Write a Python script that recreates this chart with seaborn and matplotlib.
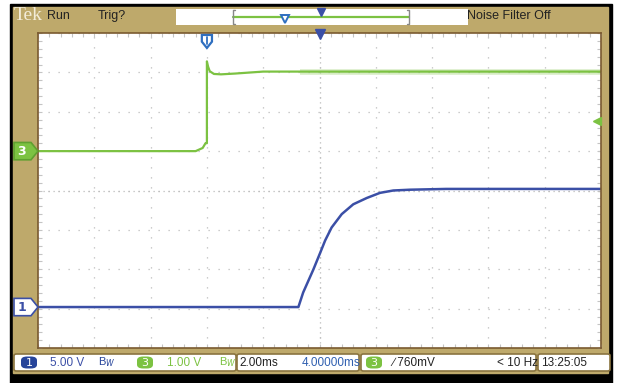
import numpy as np
import matplotlib.pyplot as plt
import matplotlib.patches as mpatches
import matplotlib.transforms as mtrans
import seaborn as sns

# channel 1 (blue, 5 V/div) and channel 3 (green, 1 V/div), time in ms
ch1_t = [0.0, 9.25, 9.42, 9.78, 10.02, 10.20, 10.43, 10.79, 11.20, 11.68, 12.15, 12.62, 13.21, 14.5, 20.0]
ch1_v = [0.0, 0.0, 1.85, 4.75, 6.85, 8.45, 10.1, 11.8, 13.05, 13.85, 14.5, 14.8, 14.9, 15.0, 15.0]
ch3_t = [0.0, 5.6, 5.85, 5.95, 6.0, 6.0, 6.04, 6.1, 6.25, 6.5, 7.0, 8.0, 20.0]
ch3_v = [0.0, 0.0, 0.08, 0.2, 0.2, 2.28, 2.15, 2.03, 1.96, 1.95, 1.97, 2.02, 2.02]

ch1_scale, ch1_ground = 5.0, -2.96
ch3_scale, ch3_ground = 1.0, 1.0
trig_level = 0.76  # V on ch3
trig_time = 6.0
noise_from = 9.3

bar_left = ["5.00 V", "1.00 V"]
timebase = ["2.00ms", "4.00000ms"]
trig_text = ["\u2215 760mV", "< 10 Hz"]
clock = "13:25:05"

BLUE = "#3b4fa6"
GREEN = "#7cc242"
TAN = "#bea96b"
BROWN = "#7a5a30"

W, H = 620, 383
fig = plt.figure(figsize=(W / 100, H / 100), dpi=100)
sns.set_style("white")
plt.rcParams['font.family'] = ['Liberation Sans', 'DejaVu Sans']

def px(x, y, w, h):
    return [x / W, 1 - (y + h) / H, w / W, h / H]

# frame
fig.add_artist(mpatches.Rectangle((10 / W, 0), 602 / W, 1 - 4 / H, transform=fig.transFigure,
                                  color="black", zorder=0))
fig.add_artist(mpatches.Rectangle((13 / W, 1 - 373 / H), 595 / W, 366 / H, transform=fig.transFigure,
                                  color=TAN, zorder=0))

ax = fig.add_axes(px(38, 33, 563, 315))
ax.set_facecolor("white")
ax.set_xlim(0, 20)
ax.set_ylim(-4, 4)
for s in ax.spines.values():
    s.set_color(BROWN)
    s.set_linewidth(1.2)

# graticule
ax.set_xticks(np.arange(0, 21, 2))
ax.set_yticks(np.arange(-4, 5, 1))
ax.set_xticks(np.arange(0, 20.01, 0.4), minor=True)
ax.set_yticks(np.arange(-4, 4.01, 0.2), minor=True)
ax.tick_params(which="both", direction="in", top=True, right=True, bottom=True, left=True,
               labelbottom=False, labelleft=False, color="#c4c4c4", length=3, width=0.8)
ax.grid(True, which="major", color="#bdbdbd", linestyle=(0, (1, 7)), linewidth=0.9)
ax.axhline(0, color="#bdbdbd", linestyle=(0, (1, 3)), linewidth=0.9)
ax.axvline(10, color="#bdbdbd", linestyle=(0, (1, 3)), linewidth=0.9)

# traces
ch3_div = [ch3_ground + v / ch3_scale for v in ch3_v]
ch1_div = [ch1_ground + v / ch1_scale for v in ch1_v]
noisy = [(t, d) for t, d in zip(ch3_t, ch3_div) if t >= noise_from]
ax.plot([noise_from] + [p[0] for p in noisy], [noisy[0][1]] + [p[1] for p in noisy],
        color=GREEN, lw=4, alpha=0.3, solid_capstyle="butt")
sns.lineplot(x=ch3_t, y=ch3_div, ax=ax, color=GREEN, lw=1.6, sort=False, estimator=None)
sns.lineplot(x=ch1_t, y=ch1_div, ax=ax, color=BLUE, lw=1.8, sort=False, estimator=None)

# channel ground markers on the left
blend = mtrans.blended_transform_factory(fig.transFigure, ax.transData)
def chan_marker(yd, label, face, edge, tc):
    x0, x1, xt = 14 / W, 31 / W, 38 / W
    h = 0.22
    poly = mpatches.Polygon([(x0, yd - h), (x1, yd - h), (xt, yd), (x1, yd + h), (x0, yd + h)],
                            closed=True, transform=blend, facecolor=face, edgecolor=edge,
                            lw=1.2, clip_on=False, zorder=5)
    fig.add_artist(poly)
    fig.text(22 / W, yd, label, transform=blend, ha="center", va="center", color=tc,
             fontsize=9, fontweight="bold", family=["DejaVu Sans"], zorder=6)
chan_marker(ch3_ground, "3", GREEN, "#5fa030", "white")
chan_marker(ch1_ground, "1", "white", BLUE, BLUE)

# trigger level arrow on right
ax.plot([19.85], [ch3_ground + trig_level / ch3_scale], marker="<", color=GREEN, ms=6,
        clip_on=False, zorder=6)
# trigger position markers at top
ax.plot([10], [3.97], marker="v", color=BLUE, ms=7, clip_on=False, zorder=6)
tmark = mpatches.Polygon([(trig_time - 0.18, 3.95), (trig_time + 0.18, 3.95), (trig_time + 0.18, 3.78),
                          (trig_time, 3.62), (trig_time - 0.18, 3.78)], closed=True,
                         facecolor="white", edgecolor="#2f6fc0", lw=1.6, zorder=6)
ax.add_patch(tmark)
ax.plot([trig_time, trig_time], [3.9, 3.72], color="#2f6fc0", lw=1.3, zorder=7)

# top status bar
fig.text(14 / W, 1 - 16 / H, "Tek", color="#f3ecd8", fontsize=14, va="center",
         family=["Liberation Serif", "DejaVu Serif"])
fig.text(47 / W, 1 - 16 / H, "Run", color="#222222", fontsize=9, va="center")
fig.text(98 / W, 1 - 16 / H, "Trig?", color="#222222", fontsize=9, va="center")
fig.add_artist(mpatches.Rectangle((176 / W, 1 - 25 / H), 292 / W, 16 / H, transform=fig.transFigure,
                                  facecolor="white", edgecolor="none", zorder=1))
fig.add_artist(plt.Line2D([233 / W, 409 / W], [1 - 17 / H] * 2, transform=fig.transFigure,
                          color=GREEN, lw=1.6, zorder=2))
for xb, d in ((233, 1), (409, -1)):
    fig.add_artist(plt.Line2D([(xb + 2 * d) / W, xb / W, xb / W, (xb + 2 * d) / W],
                              [1 - 10 / H, 1 - 10 / H, 1 - 24 / H, 1 - 24 / H],
                              transform=fig.transFigure, color="#888888", lw=1, zorder=2))
fig.add_artist(plt.Line2D([321 / W], [1 - 12 / H], marker="v", color=BLUE, ms=6,
                          transform=fig.transFigure, zorder=3))
fig.add_artist(plt.Line2D([285 / W], [1 - 19 / H], marker="v", markerfacecolor="white",
                          markeredgecolor="#2f6fc0", ms=6, mew=1.4, transform=fig.transFigure, zorder=3))
fig.text(467 / W, 1 - 16 / H, "Noise Filter Off", color="#222222", fontsize=9, va="center")

# bottom status bar
def box(x0, x1):
    fig.add_artist(mpatches.FancyBboxPatch((x0 / W, 1 - 371 / H), (x1 - x0) / W, 17 / H,
                                           boxstyle="round,pad=0,rounding_size=0.004",
                                           transform=fig.transFigure, facecolor="white",
                                           edgecolor="#8a7440", lw=1.2, zorder=1))
box(14, 236)
box(237, 359)
box(361, 536)
box(538, 610)
yb = 1 - 362.5 / H
def badge(xc, label, face):
    fig.add_artist(mpatches.FancyBboxPatch(((xc - 8) / W, 1 - 368.5 / H), 16 / W, 12 / H,
                                           boxstyle="round,pad=0,rounding_size=0.01",
                                           transform=fig.transFigure, facecolor=face,
                                           edgecolor="none", zorder=2))
    fig.text(xc / W, yb, label, color="white", fontsize=8, ha="center", va="center",
             family=["DejaVu Sans"], zorder=3)
badge(29, "1", "#26449a")
badge(145, "3", GREEN)
badge(374, "3", GREEN)
fs = 8.5
fig.text(50 / W, yb, bar_left[0], color=BLUE, fontsize=fs, va="center")
fig.text(98 / W, yb, "B$_W$", color="#26449a", fontsize=8, va="center")
fig.text(167 / W, yb, bar_left[1], color=GREEN, fontsize=fs, va="center")
fig.text(219 / W, yb, "B$_W$", color=GREEN, fontsize=8, va="center")
fig.text(239 / W, yb, timebase[0], color="#222222", fontsize=fs, va="center")
fig.text(302 / W, yb, timebase[1], color="#2f5fb0", fontsize=fs, va="center")
fig.text(392 / W, yb, trig_text[0], color="#222222", fontsize=fs, va="center",
         family=["Liberation Sans", "DejaVu Sans"])
fig.text(497 / W, yb, trig_text[1], color="#222222", fontsize=fs, va="center")
fig.text(541 / W, yb, clock, color="#222222", fontsize=fs, va="center")

fig.savefig("out.png", dpi=100, facecolor="white")
